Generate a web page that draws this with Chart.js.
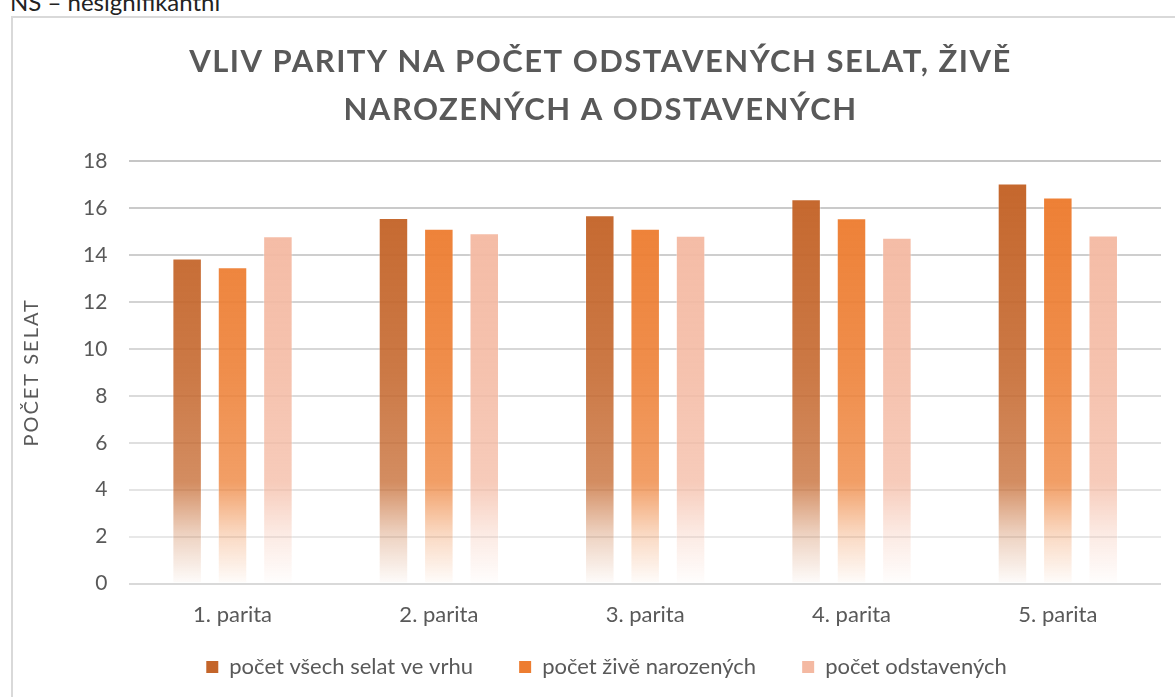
<!DOCTYPE html>
<html>
<head>
<meta charset="utf-8">
<script src="https://cdn.jsdelivr.net/npm/chart.js@4.4.1/dist/chart.umd.min.js"></script>
<style>
  html, body { margin: 0; padding: 0; background: #fff; overflow: hidden; width: 1175px; height: 697px; }
  .note { position: absolute; left: 10px; top: -13px; font: 24px Lato, sans-serif; color: #222; white-space: nowrap; }
  .box { position: absolute; left: 11px; top: 16px; width: 1180px; height: 700px;
         border-left: 2px solid #d9d9d9; border-top: 2px solid #d9d9d9; background: #fff; }
  .chart { position: relative; width: 1178px; height: 670px; }
</style>
</head>
<body>
<div class="note">NS – nesignifikantní</div>
<div class="box"><div class="chart"><canvas id="barChart"></canvas></div></div>
<script>
document.addEventListener("DOMContentLoaded", function() {
    var categories = ['1. parita', '2. parita', '3. parita', '4. parita', '5. parita'];
    var vsechSelat = [13.85, 15.58, 15.69, 16.37, 17.05];
    var ziveNarozenych = [13.48, 15.12, 15.12, 15.56, 16.45];
    var odstavenych = [14.80, 14.93, 14.82, 14.73, 14.83];
    var seriesNames = ['počet všech selat ve vrhu', 'počet živě narozených', 'počet odstavených'];
    var yTicks = [0, 2, 4, 6, 8, 10, 12, 14, 16, 18];

    var baseColors = [[196, 101, 42], [237, 125, 49], [244, 185, 162]];
    var textColor = '#595959';
    var font = 'Lato, "Open Sans", sans-serif';
    var legendGap = '     ';

    function rgba(c, a) { return 'rgba(' + c[0] + ',' + c[1] + ',' + c[2] + ',' + a + ')'; }

    // vertical fade: solid at top, washing out to white near the axis
    function fade(c) {
        return function(ctx) {
            var area = ctx.chart.chartArea;
            if (!area) return rgba(c, 1);
            var g = ctx.chart.ctx.createLinearGradient(0, area.top, 0, area.bottom);
            g.addColorStop(0, rgba(c, 1));
            g.addColorStop(0.5, rgba(c, 0.87));
            g.addColorStop(0.76, rgba(c, 0.74));
            g.addColorStop(0.88, rgba(c, 0.3));
            g.addColorStop(1, rgba(c, 0.02));
            return g;
        };
    }

    // letter spacing / small horizontal nudge when drawing a box
    function styled(fn, spacing, dx) {
        return function() {
            var c = this.ctx;
            c.save();
            if (spacing) c.letterSpacing = spacing;
            if (dx) c.translate(dx, 0);
            fn.apply(this, arguments);
            c.restore();
        };
    }
    var stylePlugin = {
        id: 'styling',
        beforeDraw: function(chart) {
            if (chart.titleBlock && !chart.titleBlock._styled) {
                chart.titleBlock.draw = styled(chart.titleBlock.draw, '1.5px', 10);
                chart.titleBlock._styled = true;
            }
            if (chart.legend && !chart.legend._styled) {
                chart.legend.draw = styled(chart.legend.draw, null, 16);
                chart.legend._styled = true;
            }
            var y = chart.scales.y;
            if (y && !y._styled) {
                y.drawTitle = styled(y.drawTitle, '2px', 0);
                y._styled = true;
            }
        }
    };

    var values = [vsechSelat, ziveNarozenych, odstavenych];
    var datasets = seriesNames.map(function(name, i) {
        return {
            label: name,
            data: values[i],
            backgroundColor: fade(baseColors[i]),
            borderColor: 'rgba(255,255,255,0.35)',
            borderWidth: 1,
            categoryPercentage: 0.66,
            barPercentage: 0.65
        };
    });

    var ctx = document.getElementById('barChart').getContext('2d');
    new Chart(ctx, {
        type: 'bar',
        data: { labels: categories, datasets: datasets },
        plugins: [stylePlugin],
        options: {
            responsive: true,
            maintainAspectRatio: false,
            animation: false,
            layout: { padding: { left: 7, right: 30, top: 0, bottom: 0 } },
            plugins: {
                tooltip: { enabled: false },
                title: {
                    display: true,
                    text: ['VLIV PARITY NA POČET ODSTAVENÝCH SELAT, ŽIVĚ', 'NAROZENÝCH A ODSTAVENÝCH'],
                    color: textColor,
                    font: { family: font, size: 31, weight: 'bold', lineHeight: 1.55 },
                    padding: { top: 20, bottom: 27 }
                },
                legend: {
                    position: 'bottom',
                    labels: {
                        color: textColor,
                        font: { family: font, size: 22 },
                        boxWidth: 12,
                        boxHeight: 12,
                        padding: 18,
                        generateLabels: function(chart) {
                            var items = Chart.defaults.plugins.legend.labels.generateLabels(chart);
                            items.forEach(function(it, i) {
                                it.fillStyle = rgba(baseColors[i], 1);
                                it.strokeStyle = rgba(baseColors[i], 1);
                                it.lineWidth = 0;
                                if (i < items.length - 1) it.text = it.text + legendGap;
                            });
                            return items;
                        }
                    }
                }
            },
            scales: {
                x: {
                    grid: { display: false },
                    border: { display: false },
                    ticks: { color: textColor, font: { family: font, size: 22 }, padding: 10 }
                },
                y: {
                    min: 0,
                    max: 18,
                    afterBuildTicks: function(axis) {
                        axis.ticks = yTicks.map(function(v) { return { value: v }; });
                    },
                    border: { display: false },
                    grid: {
                        drawTicks: false,
                        lineWidth: 2,
                        color: function(c) {
                            var v = c.tick ? c.tick.value : 0;
                            if (v === 0) return '#d9d9d9';
                            var t = v / 18;
                            var k = Math.round(236 - t * 38);
                            return 'rgb(' + k + ',' + k + ',' + k + ')';
                        }
                    },
                    ticks: { color: textColor, font: { family: font, size: 21 }, padding: 22 },
                    title: {
                        display: true,
                        text: 'POČET SELAT',
                        color: textColor,
                        font: { family: font, size: 20 },
                        padding: { top: 0, bottom: 17 }
                    }
                }
            }
        }
    });
});
</script>
</body>
</html>
